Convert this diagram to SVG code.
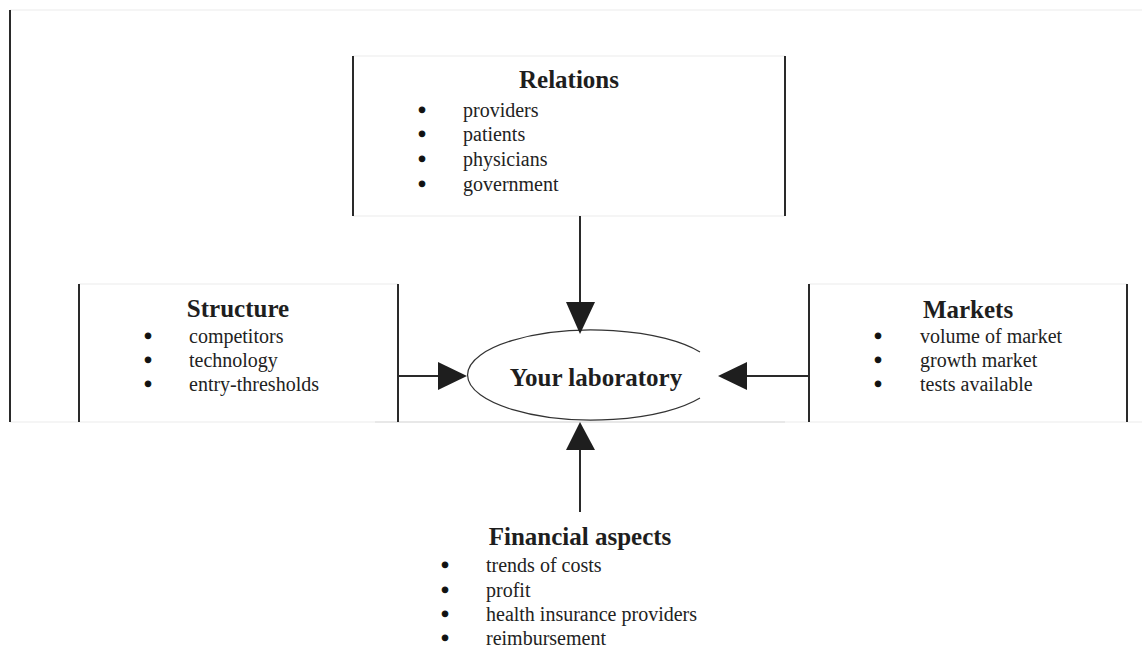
<svg xmlns="http://www.w3.org/2000/svg" width="1142" height="650" viewBox="0 0 1142 650">
<style>
.vb{stroke:#2a2a2a;stroke-width:2;fill:none}
.faint{stroke:#ececec;stroke-width:1.2;fill:none}
.conn{stroke:#2a2a2a;stroke-width:2;fill:none}
.head{fill:#1e1e1e;stroke:none}
.title{font-family:"Liberation Serif","Times New Roman",serif;font-weight:bold;font-size:25px;fill:#1e1e1e;text-anchor:middle}
.item{font-family:"Liberation Serif","Times New Roman",serif;font-size:20px;fill:#222}
.bul{font-family:"Liberation Serif","Times New Roman",serif;font-size:20px;font-weight:bold;fill:#111;stroke:#111;stroke-width:1.2;text-anchor:middle}
</style>
<rect width="1142" height="650" fill="#fff"/>
<g id="frame">
<line class="faint" x1="10" y1="10" x2="1142" y2="10"/>
<line class="faint" x1="10" y1="422" x2="1142" y2="422"/>
<line x1="375" y1="422" x2="785" y2="422" stroke="#dcdcdc" stroke-width="1.2"/>
<line class="vb" x1="10" y1="10" x2="10" y2="422"/>
</g>
<g id="relations">
<line class="faint" x1="353" y1="56" x2="785" y2="56"/>
<line class="faint" x1="353" y1="216" x2="785" y2="216"/>
<line class="vb" x1="353" y1="56" x2="353" y2="216"/>
<line class="vb" x1="785" y1="56" x2="785" y2="216"/>
<text class="title" x="569" y="88">Relations</text>
<text class="bul" x="422" y="117">•</text><text class="item" x="463" y="117">providers</text>
<text class="bul" x="422" y="141">•</text><text class="item" x="463" y="141">patients</text>
<text class="bul" x="422" y="166">•</text><text class="item" x="463" y="166">physicians</text>
<text class="bul" x="422" y="191">•</text><text class="item" x="463" y="191">government</text>
</g>
<g id="structure">
<line class="faint" x1="79" y1="284" x2="398" y2="284"/>
<line class="vb" x1="79" y1="284" x2="79" y2="422"/>
<line class="vb" x1="398" y1="284" x2="398" y2="422"/>
<text class="title" x="238" y="317">Structure</text>
<text class="bul" x="148" y="343">•</text><text class="item" x="189" y="343">competitors</text>
<text class="bul" x="148" y="367">•</text><text class="item" x="189" y="367">technology</text>
<text class="bul" x="148" y="391">•</text><text class="item" x="189" y="391">entry-thresholds</text>
</g>
<g id="markets">
<line class="faint" x1="809" y1="284" x2="1127" y2="284"/>
<line class="vb" x1="809" y1="284" x2="809" y2="422"/>
<line class="vb" x1="1127" y1="284" x2="1127" y2="422"/>
<text class="title" x="968" y="318">Markets</text>
<text class="bul" x="878" y="343">•</text><text class="item" x="920" y="343">volume of market</text>
<text class="bul" x="878" y="367">•</text><text class="item" x="920" y="367">growth market</text>
<text class="bul" x="878" y="391">•</text><text class="item" x="920" y="391">tests available</text>
</g>
<g id="lab">
<path d="M700,352 A125,45 0 1 0 700,398" fill="none" stroke="#333" stroke-width="1.2"/>
<text class="title" x="596" y="386">Your laboratory</text>
</g>
<g id="financial">
<text class="title" x="580" y="545">Financial aspects</text>
<text class="bul" x="445" y="572">•</text><text class="item" x="486" y="572">trends of costs</text>
<text class="bul" x="445" y="597">•</text><text class="item" x="486" y="597">profit</text>
<text class="bul" x="445" y="621">•</text><text class="item" x="486" y="621">health insurance providers</text>
<text class="bul" x="445" y="645">•</text><text class="item" x="486" y="645">reimbursement</text>
</g>
<g id="connectors">
<line class="conn" x1="580" y1="216" x2="580" y2="303"/>
<polygon class="head" points="566,302 595,302 580,334"/>
<line class="conn" x1="398" y1="376" x2="440" y2="376"/>
<polygon class="head" points="438,362 438,390 467,376"/>
<line class="conn" x1="809" y1="376" x2="745" y2="376"/>
<polygon class="head" points="747,362 747,390 718,376"/>
<line class="conn" x1="580" y1="512" x2="580" y2="448"/>
<polygon class="head" points="566,450 595,450 580,422"/>
</g>
</svg>
